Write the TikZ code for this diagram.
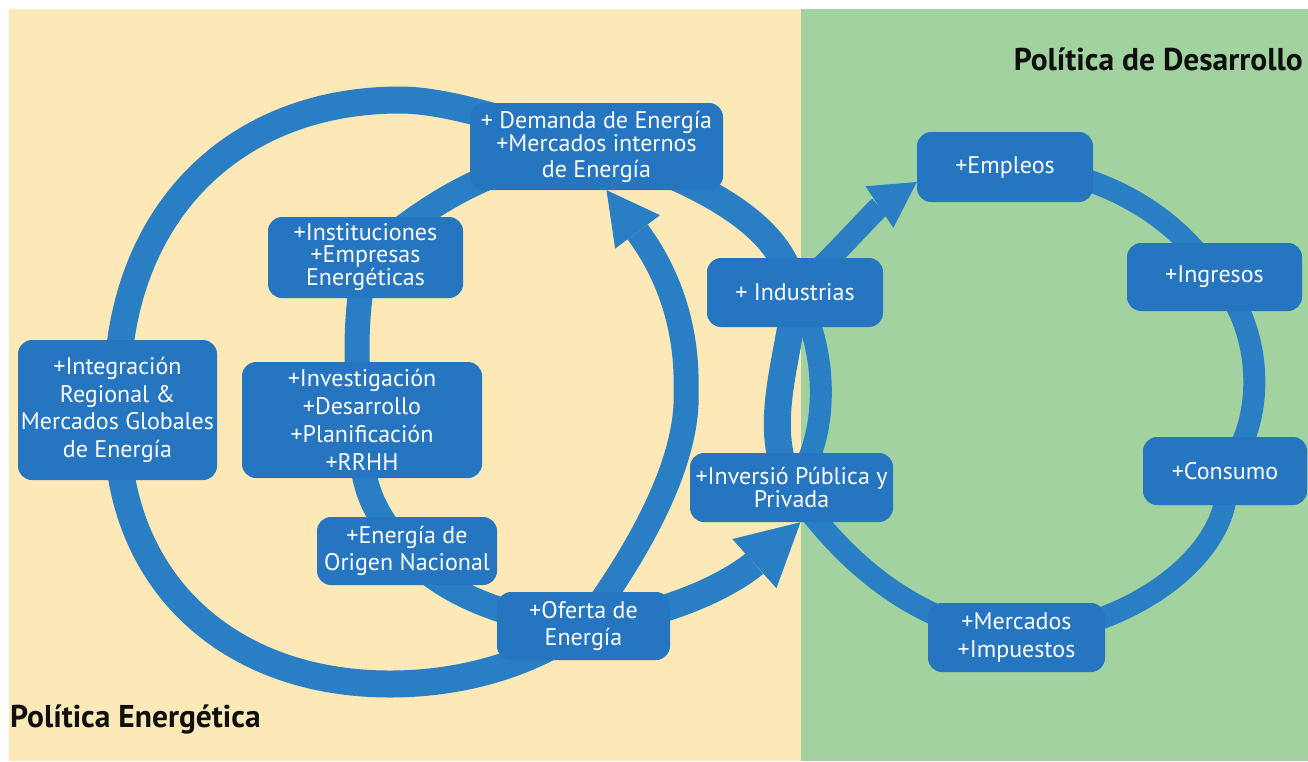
\documentclass[tikz,border=0pt]{standalone}
\usepackage{fontspec}
\setmainfont{PT Sans}
\usetikzlibrary{arrows.meta}
\definecolor{bgyellow}{RGB}{253,233,184}
\definecolor{bggreen}{RGB}{161,210,160}
\definecolor{ringblue}{RGB}{42,127,196}
\definecolor{boxblue}{RGB}{37,117,192}
\definecolor{titlecol}{RGB}{15,15,15}
\pgfdeclarelayer{bg}\pgfdeclarelayer{rings}\pgfsetlayers{bg,rings,main}
\begin{document}
\begin{tikzpicture}[x=1pt,y=-1pt,
  box/.style={fill=boxblue, rounded corners=14pt, text=white, align=center, inner sep=0pt, font=\fontsize{24}{27}\selectfont},
  bigring/.style={draw=ringblue, line width=27pt},
  inring/.style={draw=ringblue, line width=25pt},
  rring/.style={draw=ringblue, line width=22pt},
  title/.style={text=titlecol, inner sep=0pt, font=\fontsize{31.5}{34}\selectfont\bfseries}]
\useasboundingbox (0,0) rectangle (1308,761);

% boxes
\node[box,minimum width=253pt,minimum height=87pt,font=\fontsize{24}{23}\selectfont] (dem) at (596.5,146.5) {+ Demanda de Energía\\+Mercados internos\\[3pt]de Energía};
\node[box,minimum width=195pt,minimum height=81pt,font=\fontsize{24}{22}\selectfont] (ins) at (365.5,257.5) {+Instituciones\\+Empresas\\Energéticas};
\node[box,minimum width=199pt,minimum height=140pt,font=\fontsize{24}{27.5}\selectfont] (int) at (117.5,410) {+Integración\\Regional \&\\Mercados Globales\\de Energía};
\node[box,minimum width=240pt,minimum height=116pt,font=\fontsize{24}{28}\selectfont] (ivd) at (362,420) {+Investigación\\+Desarrollo\\+Planificación\\+RRHH};
\node[box,minimum width=180pt,minimum height=68pt,font=\fontsize{24}{27}\selectfont] (ene) at (407,551) {+Energía de\\Origen Nacional};
\node[box,minimum width=173pt,minimum height=68pt,font=\fontsize{24}{27}\selectfont] (ofe) at (583.5,626) {+Oferta de\\Energía};
\node[box,minimum width=176pt,minimum height=69pt] (ind) at (795,292.5) {+ Industrias};
\node[box,minimum width=203pt,minimum height=69pt,font=\fontsize{24}{23}\selectfont] (inv) at (791.5,487.5) {+Inversió Pública y\\Privada};
\node[box,minimum width=176pt,minimum height=70pt] (emp) at (1005,167) {+Empleos};
\node[box,minimum width=175pt,minimum height=68pt] (ing) at (1214.5,277) {+Ingresos};
\node[box,minimum width=164pt,minimum height=68pt] (con) at (1225,471) {+Consumo};
\node[box,minimum width=177pt,minimum height=69pt,font=\fontsize{24}{28}\selectfont] (mer) at (1016.5,637.5) {+Mercados\\+Impuestos};

% titles
\node[title,anchor=base east] (tdes) at (1303,70) {Política de Desarrollo};
\node[title,anchor=base west] (tene) at (10,727) {Política Energética};

\begin{pgfonlayer}{bg}
\fill[bgyellow] (9,9) rectangle (801,761);
\fill[bggreen] (801,9) rectangle (1308,761);
\end{pgfonlayer}

\begin{pgfonlayer}{rings}
% big loop
\draw[bigring,-{Triangle[length=62pt,width=66pt,line width=0pt]}] (ofe.center) .. controls (690,612) and (745,572) .. ([xshift=9pt]inv.south);
\draw[bigring] (inv.center) .. controls (760,425) and (790,360) .. (ind.center);
\draw[bigring] (ind.center) .. controls (785,240) and (740,195) .. (dem.center);
\draw[bigring] (dem.center) .. controls (520,125) and (450,100) .. (400,100) .. controls (226,100) and (110,224) .. (int.center);
\draw[bigring] (int.center) .. controls (110,574) and (222,684) .. (390,684) .. controls (460,684) and (530,665) .. (ofe.center);
% inner loop
\draw[inring,-{Triangle[length=52pt,width=56pt,line width=0pt]}] (ofe.center) .. controls (625,570) and (690,470) .. (686,390) .. controls (688,315) and (660,262) .. ([xshift=10pt]dem.south);
\draw[inring] (dem.center) to[bend right=15] (ins.center);
\draw[inring] (ins.center) to[bend right=8] (ivd.center);
\draw[inring] (ivd.center) .. controls (358,480) and (370,510) .. (ene.center);
\draw[inring] (ene.center) .. controls (430,585) and (500,620) .. (ofe.center);
% right loop
\draw[rring] (inv.center) .. controls (832,440) and (828,345) .. (ind.center);
\draw[rring,-{Triangle[length=45pt,width=50pt,line width=0pt]}] (ind.center) .. controls (835,255) and (875,210) .. ([yshift=-15pt]emp.west);
\draw[rring] (emp.center) .. controls (1080,165) and (1170,205) .. (ing.center);
\draw[rring] (ing.center) .. controls (1258,315) and (1272,415) .. (con.center);
\draw[rring] (con.center) .. controls (1240,540) and (1150,625) .. (mer.center);
\draw[rring] (mer.center) .. controls (920,625) and (850,570) .. (inv.center);
\end{pgfonlayer}
\end{tikzpicture}
\end{document}
